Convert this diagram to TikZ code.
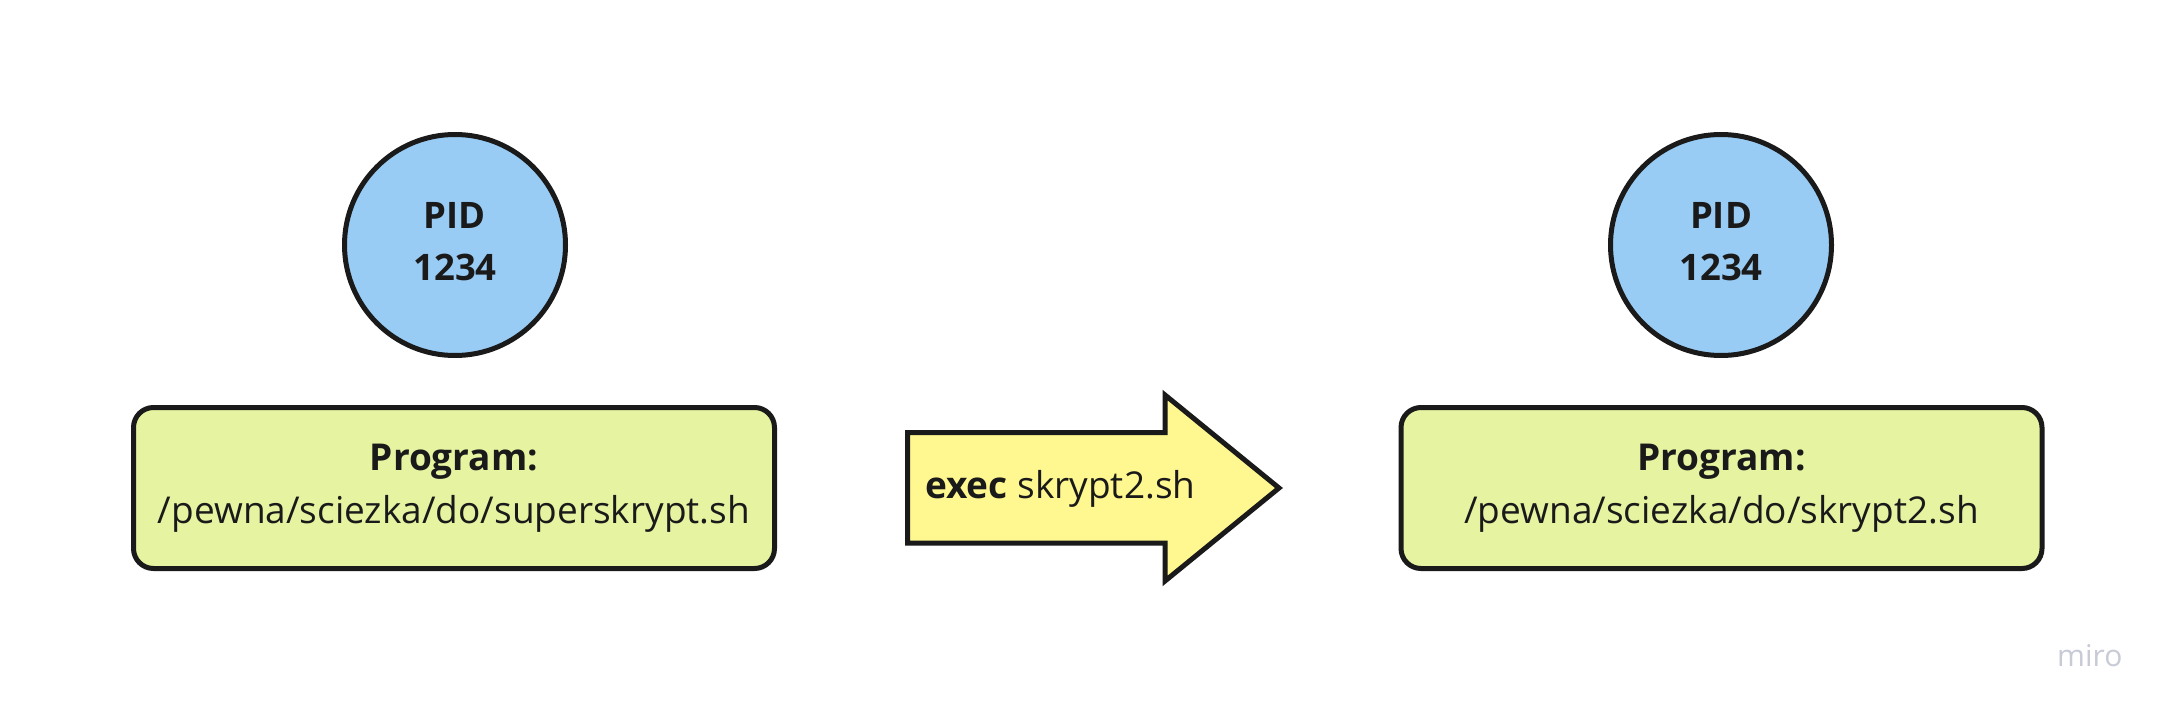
\documentclass[tikz,border=0pt]{standalone}
\usepackage{fontspec}
\setmainfont{Open Sans}
\definecolor{ink}{HTML}{1A1A1A}
\definecolor{pidblue}{HTML}{99CCF5}
\definecolor{boxgreen}{HTML}{E6F3A1}
\definecolor{arrowyellow}{HTML}{FFF78F}
\definecolor{wmgray}{HTML}{C8CAD6}
\begin{document}
\begin{tikzpicture}[x=1pt,y=-1pt,
  pid/.style={circle, draw=ink, line width=5pt, fill=pidblue, minimum size=221pt, inner sep=0pt},
  pidtext/.style={inner sep=0pt, align=center, text=ink, font=\fontsize{36.5}{52}\selectfont\bfseries},
  progbox/.style={rectangle, rounded corners=20pt, draw=ink, line width=5pt, fill=boxgreen,
    minimum width=641pt, minimum height=161pt, inner sep=0pt, align=center, text=ink,
    font=\fontsize{37}{53}\selectfont},
  arrowshape/.style={draw=ink, line width=5pt, fill=arrowyellow, line join=miter},
  arrowtext/.style={anchor=west, inner sep=0pt, text=ink, font=\fontsize{37}{44}\selectfont},
  watermark/.style={anchor=base west, inner sep=0pt, text=wmgray, font=\fontsize{30}{34}\selectfont}]
\fill[white] (0,0) rectangle (2177,717);
\useasboundingbox (0,0) rectangle (2177,717);

% left process
\node[pid] (pidL) at (455,245) {};
\node[pidtext] (pidLt) at ([yshift=3pt]pidL.center) {PID\\1234};
\node[progbox] (progL) at (454,488) {\textbf{Program:}\\/pewna/sciezka/do/superskrypt.sh};

% right process
\node[pid] (pidR) at (1721,245) {};
\node[pidtext] (pidRt) at ([yshift=3pt]pidR.center) {PID\\1234};
\node[progbox] (progR) at (1721.5,488) {\textbf{Program:}\\/pewna/sciezka/do/skrypt2.sh};

% exec arrow
\coordinate (aTL) at (907.5,432.5);
\coordinate (aBL) at (907.5,543);
\coordinate (hT) at (1165,395);
\coordinate (hB) at (1165,581);
\coordinate (tip) at (1279,488);
\draw[arrowshape] (aTL) -- (1165,432.5) -- (hT) -- (tip) -- (hB) -- (1165,543) -- (aBL) -- cycle;
\node[arrowtext] (exec) at (925,489) {\textbf{exec} skrypt2.sh};

% watermark
\node[watermark] (miro) at (2057,666) {miro};
\end{tikzpicture}
\end{document}
